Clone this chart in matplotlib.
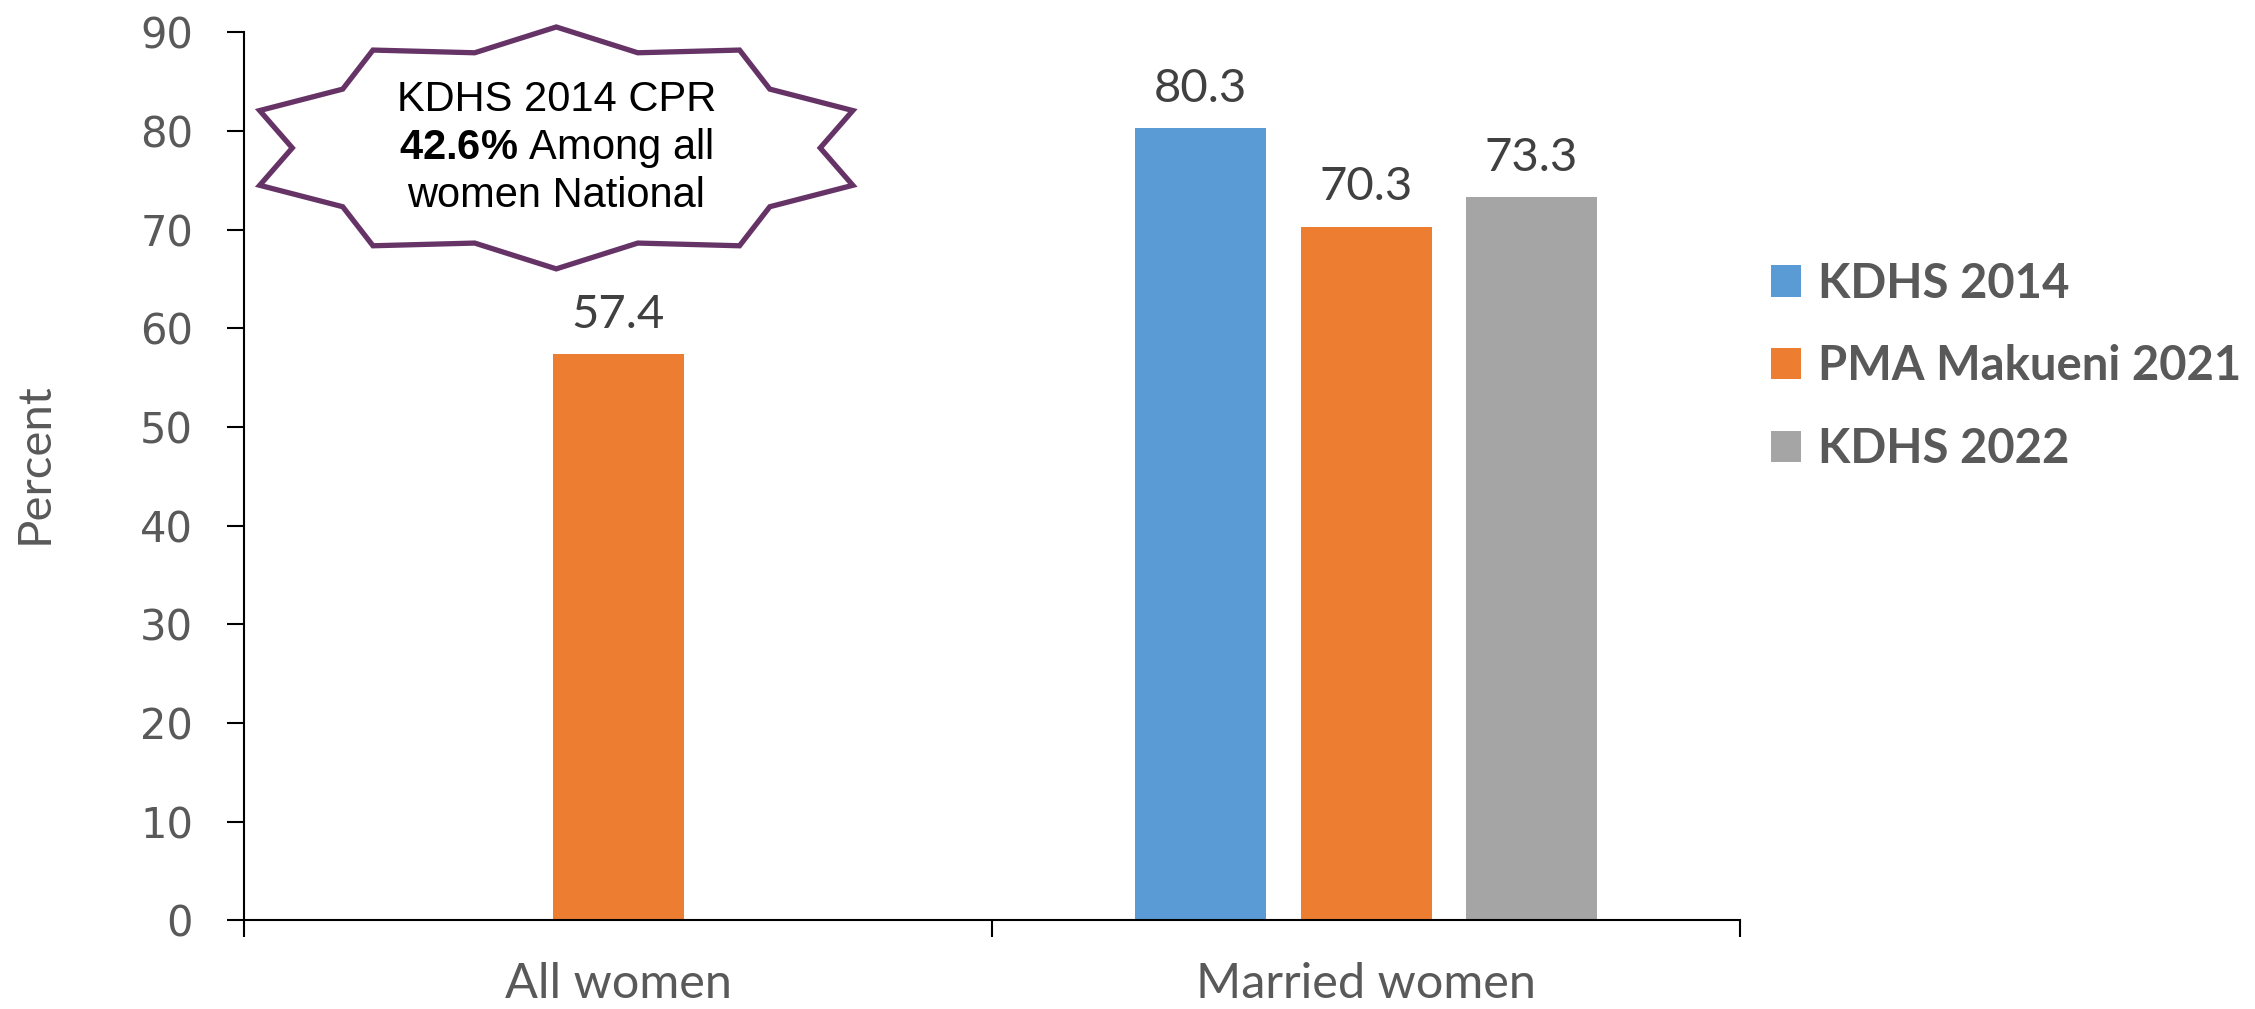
import numpy as np
import matplotlib
matplotlib.use("Agg")
import matplotlib.pyplot as plt
from matplotlib.patches import Polygon

plt.rcParams['font.family'] = ['Lato', 'DejaVu Sans']
plt.rcParams['mathtext.fontset'] = 'custom'
plt.rcParams['mathtext.rm'] = 'Liberation Sans'
plt.rcParams['mathtext.bf'] = 'Liberation Sans:bold'

# datos
categorias = ["All women", "Married women"]
series = ["KDHS 2014", "PMA Makueni 2021", "KDHS 2022"]
kdhs_2014 = [np.nan, 80.3]
pma_2021 = [57.4, 70.3]
kdhs_2022 = [np.nan, 73.3]
valores = [kdhs_2014, pma_2021, kdhs_2022]
colores = ["#5B9BD5", "#ED7D31", "#A5A5A5"]
y_ticks = list(range(0, 100, 10))
nota = ["KDHS 2014 CPR", r"$\mathbf{42.6\%}$ Among all", "women National"]

fig = plt.figure(figsize=(22.55, 10.09), dpi=100)
ax = fig.add_axes([0.1084, 0.0878, 0.6632, 0.880])

ancho = 0.175
paso = 0.221
for c in range(len(categorias)):
    presentes = [s for s in range(len(series)) if not np.isnan(valores[s][c])]
    n = len(presentes)
    for i, s in enumerate(presentes):
        x = c + (i - (n - 1) / 2) * paso
        v = valores[s][c]
        ax.bar(x, v, width=ancho, color=colores[s], zorder=2)
        ax.annotate(f"{v:.1f}", (x, v), xytext=(0, 19), textcoords='offset points',
                    ha='center', va='baseline', fontsize=34, color='#404040')

# entradas de leyenda
for s in range(len(series)):
    ax.bar(0, 0, width=0, color=colores[s], label=series[s])

ax.set_xlim(-0.5, len(categorias) - 0.5)
ax.set_ylim(0, 90)
ax.set_yticks(y_ticks)
ax.set_yticklabels([str(t) for t in y_ticks], family='DejaVu Sans', fontsize=30, color='#595959')
ax.tick_params(axis='y', direction='out', length=12, width=1.5, pad=25)

ax.set_xticks(np.arange(-0.5, len(categorias), 1.0))
ax.set_xticklabels([])
ax.set_xticks(range(len(categorias)), minor=True)
ax.set_xticklabels(categorias, minor=True, fontsize=35, color='#595959')
ax.tick_params(axis='x', which='major', direction='out', length=12, width=1.5)
ax.tick_params(axis='x', which='minor', length=0, pad=30)

for lado in ['top', 'right']:
    ax.spines[lado].set_visible(False)
for lado in ['left', 'bottom']:
    ax.spines[lado].set_linewidth(1.5)
    ax.spines[lado].set_color('black')

fig.text(35 / 2255, 1 - 463 / 1009, "Percent", rotation=90, ha='center', va='center',
         fontsize=34, color='#595959')

leg = fig.legend(loc='center left', bbox_to_anchor=(0.7854, 0.637), frameon=False,
                 borderpad=0, borderaxespad=0, handlelength=0.64, handleheight=0.64,
                 handletextpad=0.35, labelspacing=0.82,
                 prop={'family': 'Lato', 'weight': 'bold', 'size': 34})
for t in leg.get_texts():
    t.set_color('#595959')

# estrella de 10 puntas con la nota
cx, cy = -0.083, 78.3
k = 10
ang = np.pi / 2 + np.arange(2 * k) * np.pi / k
rx = np.where(np.arange(2 * k) % 2 == 0, 0.417, 0.353)
ry = np.where(np.arange(2 * k) % 2 == 0, 12.26, 10.14)
pts = np.column_stack([cx + rx * np.cos(ang), cy + ry * np.sin(ang)])
ax.add_patch(Polygon(pts, closed=True, facecolor='white', edgecolor='#663366',
                     linewidth=3.8, clip_on=False, zorder=5))
ax.text(cx, cy, "\n".join(nota), ha='center', va='center', family='Liberation Sans',
        fontsize=30, color='black', linespacing=1.2, zorder=6)

fig.savefig("out.png", dpi=100)
